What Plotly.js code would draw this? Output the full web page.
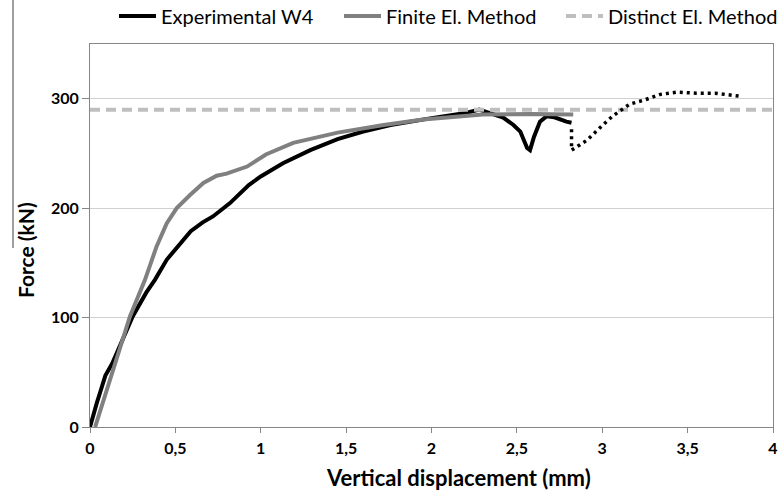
<!DOCTYPE html>
<html>
<head>
<meta charset="utf-8">
<script src="https://cdn.plot.ly/plotly-3.0.1.min.js"></script>
<style>html,body{margin:0;padding:0;background:#fff;}#chart{width:780px;height:496px;}</style>
</head>
<body>
<div id="chart"></div>
<script>
// Experimental W4 (solid part)
const expX = [0, 0.02, 0.04, 0.06, 0.09, 0.13, 0.19, 0.25, 0.33, 0.38, 0.45, 0.52, 0.59, 0.66, 0.72, 0.82, 0.93, 1.0, 1.13, 1.29, 1.45, 1.6, 1.76, 2.01, 2.2, 2.28, 2.3, 2.36, 2.42, 2.48, 2.52, 2.56, 2.577, 2.6, 2.635, 2.675, 2.72, 2.79, 2.82];
const expY = [0, 12, 22, 32, 47, 58, 80, 101, 123, 134.5, 153, 166, 179, 187, 192.4, 204.6, 221, 229, 241, 253, 263, 270, 276, 282.5, 287, 290, 289, 286, 282.7, 276, 270, 255, 253, 265, 279, 284, 283, 279, 278];
// Experimental W4 (dotted continuation)
const dotX = [2.82, 2.82, 2.87, 2.91, 2.99, 3.06, 3.16, 3.25, 3.34, 3.44, 3.55, 3.66, 3.77, 3.82];
const dotY = [272, 253, 258, 262, 274, 284, 295, 299, 304, 306, 305, 305, 303, 302];
// Finite El. Method
const femX = [0.03, 0.1, 0.234, 0.322, 0.39, 0.449, 0.508, 0.586, 0.664, 0.742, 0.8, 0.92, 1.03, 1.19, 1.29, 1.45, 1.72, 1.95, 2.3, 2.58, 2.83];
const femY = [0, 35, 101, 134.5, 165, 186, 200, 212, 223, 229.6, 231.5, 238, 249, 259.6, 263, 269, 276, 281, 285.5, 286, 285.5];
// Distinct El. Method
const demX = [0, 4];
const demY = [290, 290];

const xTickVals = [0, 0.5, 1, 1.5, 2, 2.5, 3, 3.5, 4];
const xTickText = ['0', '0,5', '1', '1,5', '2', '2,5', '3', '3,5', '4'];
const yTickVals = [0, 100, 200, 300];

const FONT = 'Lato, "Open Sans", sans-serif';

const traces = [
  {x: expX, y: expY, mode: 'lines', name: 'Experimental W4', legend: 'legend', line: {color: '#000000', width: 4}},
  {x: femX, y: femY, mode: 'lines', name: 'Finite El. Method', legend: 'legend2', line: {color: '#808080', width: 4}},
  {x: demX, y: demY, mode: 'lines', name: 'Distinct El. Method', legend: 'legend3', line: {color: '#bfbfbf', width: 4, dash: '10px,6px'}},
  {x: dotX, y: dotY, mode: 'lines', name: 'Experimental W4 (dotted)', showlegend: false, line: {color: '#000000', width: 3.5, dash: '3px,4px'}}
];

function legendAt(px) {
  return {orientation: 'h', x: (px - 90) / 683, xanchor: 'left', y: (427 - 16) / 383, yanchor: 'middle',
          font: {size: 20, color: '#000000', family: FONT}, itemwidth: 37, bgcolor: 'rgba(0,0,0,0)'};
}

const layout = {
  width: 780, height: 496,
  margin: {l: 90, r: 7, t: 44, b: 69, autoexpand: false},
  paper_bgcolor: '#ffffff', plot_bgcolor: '#ffffff',
  font: {family: FONT, color: '#000000'},
  showlegend: true,
  legend: legendAt(114),
  legend2: legendAt(339),
  legend3: legendAt(561),
  xaxis: {range: [0, 4], tickvals: xTickVals, ticktext: xTickText, ticks: 'outside', ticklen: 5,
          tickcolor: '#868686', showline: true, linecolor: '#868686', linewidth: 1, mirror: true,
          showgrid: false, zeroline: false, ticklabelstandoff: 2,
          tickfont: {family: FONT, size: 16, color: '#000000', weight: 'bold'}},
  yaxis: {range: [0, 350], tickvals: yTickVals, ticks: 'outside', ticklen: 7, tickcolor: '#868686',
          showline: true, linecolor: '#868686', linewidth: 1, mirror: true,
          showgrid: true, gridcolor: '#d0d0d0', gridwidth: 1, zeroline: false,
          tickfont: {family: FONT, size: 16, color: '#000000', weight: 'bold'}},
  annotations: [
    {text: 'Vertical displacement (mm)', xref: 'paper', yref: 'paper', x: (458 - 90) / 683, y: (427 - 477) / 383,
     xanchor: 'center', yanchor: 'middle', showarrow: false,
     font: {family: FONT, size: 22, color: '#000000', weight: 'bold'}},
    {text: 'Force (kN)', xref: 'paper', yref: 'paper', x: (25 - 90) / 683, y: (427 - 250) / 383,
     xanchor: 'center', yanchor: 'middle', showarrow: false, textangle: -90,
     font: {family: FONT, size: 21, color: '#000000', weight: 'bold'}}
  ],
  shapes: [
    {type: 'line', xref: 'paper', yref: 'paper', x0: (13 - 90) / 683, x1: (13 - 90) / 683,
     y0: 427 / 383, y1: (427 - 248) / 383, line: {color: '#7f7f7f', width: 1.5}}
  ]
};

Plotly.newPlot('chart', traces, layout, {staticPlot: true, displayModeBar: false});
</script>
</body>
</html>
